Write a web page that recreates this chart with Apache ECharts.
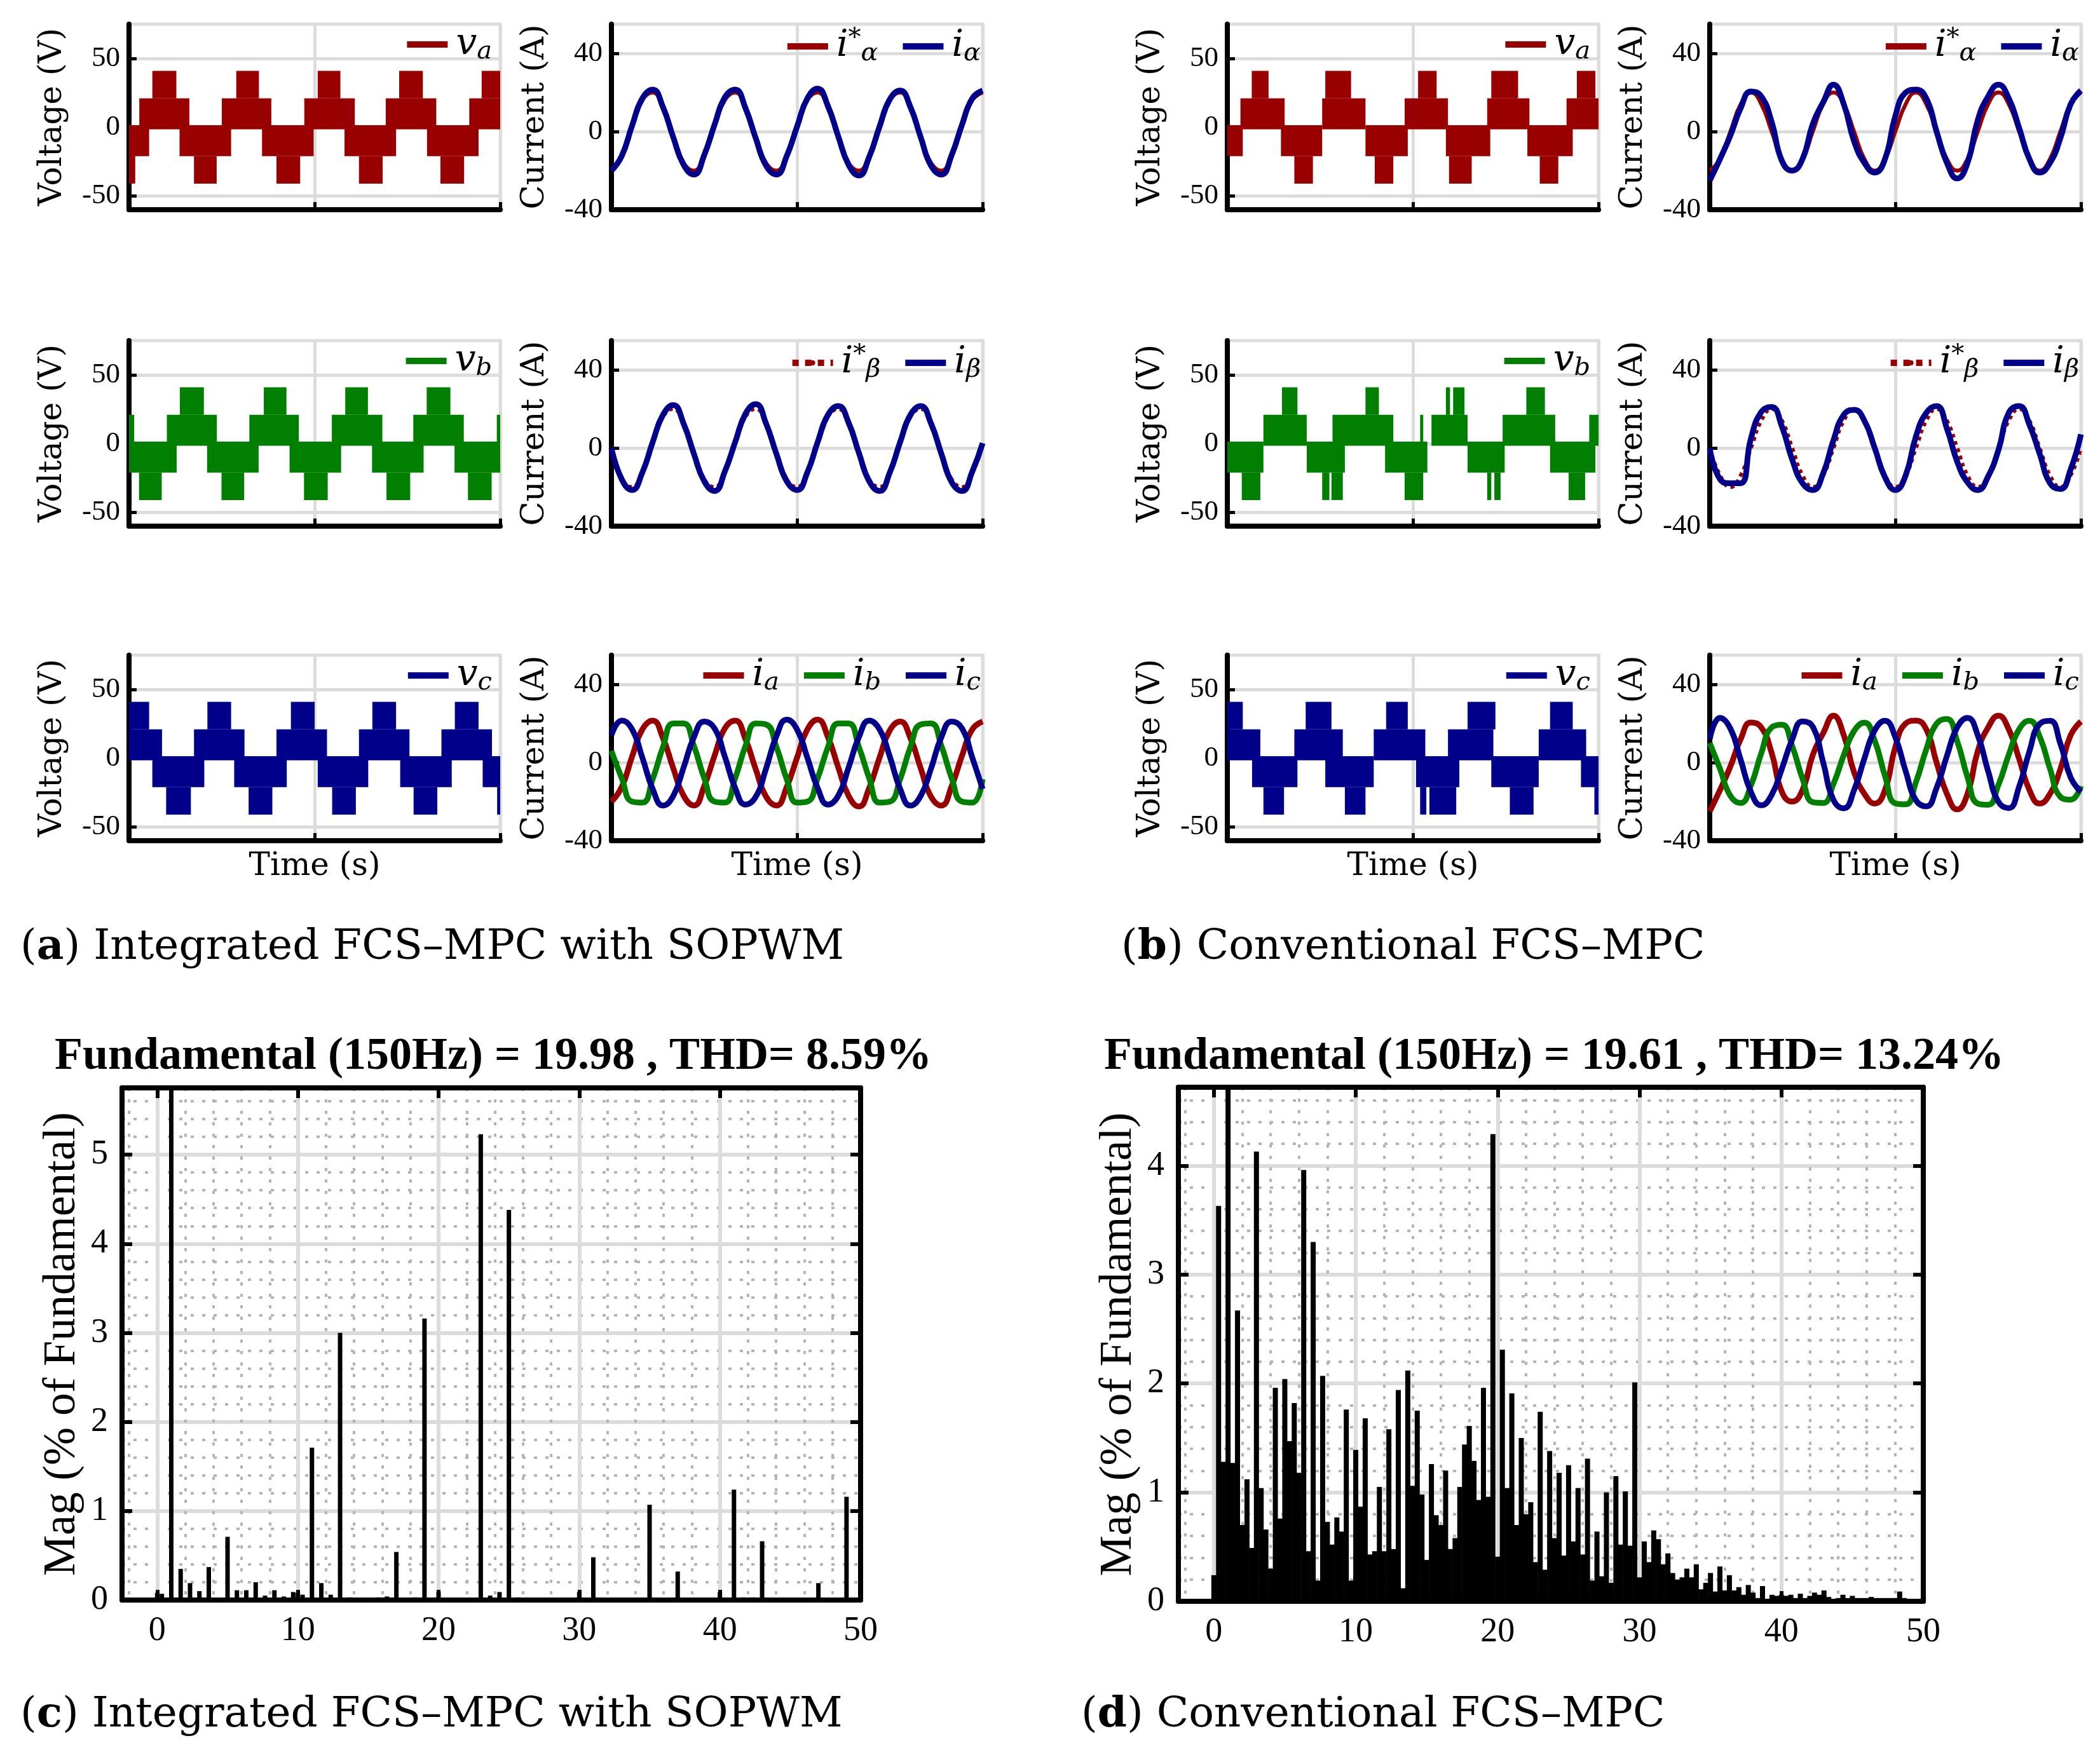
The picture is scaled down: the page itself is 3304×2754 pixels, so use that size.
<!DOCTYPE html>
<html lang="en" style="height: 100%">
<head>
<meta charset="utf-8">
<script src="https://cdn.jsdelivr.net/npm/echarts@6.0.0/dist/echarts.min.js"></script>
</head>
<body style="height: 100%; margin: 0; background: #fff">
<div id="main" style="width: 3304px; height: 2754px"></div>
<script>
// time axis: 0..36, one step = 1/8 of the 150 Hz period
// voltage PWM bands: [t0, t1, low, high]
var vaA = [
  [0, 1.95, -21, 1.5], [0, 0.6, -41, -21],
  [1.0, 5.85, -1.5, 21], [2.26, 4.59, 21, 41],
  [4.9, 9.9, -21, 1.5], [6.3, 8.5, -41, -21],
  [9.0, 13.8, -1.5, 21], [10.4, 12.6, 21, 41],
  [12.9, 17.9, -21, 1.5], [14.3, 16.6, -41, -21],
  [17.0, 21.9, -1.5, 21], [18.3, 20.5, 21, 41],
  [20.9, 25.9, -21, 1.5], [22.3, 24.6, -41, -21],
  [24.9, 29.8, -1.5, 21], [26.2, 28.5, 21, 41],
  [28.9, 33.9, -21, 1.5], [30.2, 32.5, -41, -21],
  [33.0, 36, -1.5, 21], [34.2, 36, 21, 41]
];
var vbA = [
  [0, 0.5, -1.5, 21],
  [0, 4.62, -21, 1.5], [0.97, 3.17, -41, -21],
  [3.67, 8.52, -1.5, 21], [4.93, 7.26, 21, 41],
  [7.57, 12.57, -21, 1.5], [8.97, 11.17, -41, -21],
  [11.67, 16.47, -1.5, 21], [13.07, 15.27, 21, 41],
  [15.57, 20.57, -21, 1.5], [16.97, 19.27, -41, -21],
  [19.67, 24.57, -1.5, 21], [20.97, 23.17, 21, 41],
  [23.57, 28.57, -21, 1.5], [24.97, 27.27, -41, -21],
  [27.57, 32.47, -1.5, 21], [28.87, 31.17, 21, 41],
  [31.57, 36, -21, 1.5], [32.87, 35.17, -41, -21],
  [35.67, 36, -1.5, 21]
];
var vcA = [
  [0, 3.2, -1.5, 21], [0, 1.95, 21, 41],
  [2.26, 7.3, -21, 1.5], [3.6, 6.0, -41, -21],
  [6.3, 11.2, -1.5, 21], [7.6, 9.9, 21, 41],
  [10.2, 15.3, -21, 1.5], [11.6, 13.9, -41, -21],
  [14.3, 19.2, -1.5, 21], [15.7, 18.0, 21, 41],
  [18.3, 23.2, -21, 1.5], [19.7, 22.0, -41, -21],
  [22.3, 27.2, -1.5, 21], [23.6, 25.9, 21, 41],
  [26.3, 31.3, -21, 1.5], [27.6, 29.9, -41, -21],
  [30.3, 35.2, -1.5, 21], [31.6, 33.9, 21, 41],
  [34.3, 36, -21, 1.5], [35.7, 36, -41, -21]
];
var vaB = [
  [0, 1.5, -21, 1.5],
  [1.27, 5.56, -1.5, 21], [2.37, 4.0, 21, 41],
  [5.2, 9.2, -21, 1.5], [6.5, 8.3, -41, -21],
  [9.2, 13.4, -1.5, 21], [9.5, 12.0, 21, 41],
  [13.4, 17.5, -21, 1.5], [14.3, 16.1, -41, -21],
  [17.2, 21.4, -1.5, 21], [18.5, 20.3, 21, 41],
  [21.2, 25.5, -21, 1.5], [21.5, 23.7, -41, -21],
  [25.2, 29.3, -1.5, 21], [25.6, 28.2, 21, 41],
  [29.1, 33.5, -21, 1.5], [30.3, 32.1, -41, -21],
  [32.9, 36, -1.5, 21], [33.9, 35.7, 21, 41]
];
var vbB = [
  [0, 3.5, -21, 1.5], [1.4, 3.2, -41, -21],
  [3.5, 7.7, -1.5, 21], [5.3, 6.8, 21, 41],
  [7.7, 11.4, -21, 1.5], [9.2, 9.9, -41, -21], [10.1, 11.2, -41, -21],
  [10.2, 16.1, -1.5, 21], [13.4, 14.7, 21, 41],
  [15.3, 19.4, -21, 1.5], [17.2, 19.0, -41, -21],
  [18.7, 19.0, -1.5, 21], [19.8, 23.3, -1.5, 21], [21.2, 21.6, 21, 41], [21.9, 23.0, 21, 41],
  [23.3, 26.9, -21, 1.5], [25.2, 25.6, -41, -21], [25.9, 26.5, -41, -21],
  [26.7, 31.8, -1.5, 21], [29.0, 30.8, 21, 41],
  [31.3, 35.7, -21, 1.5], [33.1, 34.7, -41, -21],
  [35.1, 36, -1.5, 21]
];
var vcB = [
  [0, 3.2, -1.5, 21], [0, 1.5, 21, 41],
  [2.4, 6.8, -21, 1.5], [3.5, 5.5, -41, -21],
  [6.5, 11.2, -1.5, 21], [7.6, 10.1, 21, 41],
  [9.5, 14.2, -21, 1.5], [11.4, 13.4, -41, -21],
  [14.2, 19.2, -1.5, 21], [15.4, 17.5, 21, 41],
  [18.3, 22.5, -21, 1.5], [18.7, 19.3, -41, -21], [19.6, 22.2, -41, -21],
  [21.4, 25.8, -1.5, 21], [23.3, 26.0, 21, 41],
  [25.6, 30.2, -21, 1.5], [27.4, 29.7, -41, -21],
  [30.2, 34.8, -1.5, 21], [31.3, 33.5, 21, 41],
  [34.3, 36, -21, 1.5], [35.6, 36, -41, -21]
];

// currents (A), 37 samples each
var iAlphaRefA = [-20, -12, 2.5, 16, 20, 12, -2.5, -16, -20, -12, 2.5, 16, 20, 12, -2.5, -16, -20, -12, 2.5, 16, 20, 12, -2.5, -16, -20, -12, 2.5, 16, 20, 12, -2.5, -16, -20, -12, 2.5, 16, 20];
var iAlphaA = [-20, -12.5, 3, 17, 21.5, 12.5, -3, -17, -22, -12, 3.5, 17.5, 21.5, 12, -3.5, -17.5, -22, -12.5, 2.5, 17, 22, 13, -2.5, -17, -22.5, -13, 2.5, 16.5, 21, 12.5, -3, -17.5, -22, -12, 3.5, 17, 21];
var iBetaRefA = [-2.5, -16, -20, -12, 2.5, 16, 20, 12, -2.5, -16, -20, -12, 2.5, 16, 20, 12, -2.5, -16, -20, -12, 2.5, 16, 20, 12, -2.5, -16, -20, -12, 2.5, 16, 20, 12, -2.5, -16, -20, -12, 2.5];
var iBetaA = [0, -16, -21.5, -12.5, 3, 17, 22, 12.5, -3, -17, -22, -12, 3, 17.5, 22.5, 12.5, -3, -17, -21.5, -12.5, 3, 17, 21.5, 13, -2.5, -17, -22, -12.5, 3, 17, 21.5, 12.5, -3, -17.5, -22, -12, 2.5];
var iaA = iAlphaA;
var ibA = [6, -8, -20, -20.5, -8.5, 8, 20, 20, 8.5, -8, -20, -20.5, -8, 8.5, 20, 19.5, 8, -8.5, -20.5, -20, -8, 8, 20, 20, 8, -8, -20.5, -20, -8.5, 8, 19.5, 20, 8.5, -8, -20, -20.5, -8.5];
var icA = [14, 21.5, 17, 2.5, -13.5, -22, -17, -2.5, 13, 21, 17.5, 3, -13, -21.5, -17.5, -3, 13.5, 22, 17, 2.5, -13, -21.5, -17, -2.5, 13, 21.5, 17, 3, -13.5, -22, -17, -3, 13, 21, 17.5, 2.5, -13.5];

var iAlphaRefB = [-20, -14, 0, 14, 20, 14, 0, -14, -20, -14, 0, 14, 20, 14, 0, -14, -20, -14, 0, 14, 20, 14, 0, -14, -20, -14, 0, 14, 20, 14, 0, -14, -20, -14, 0, 14, 20];
var iAlphaB = [-25, -14, -2, 12, 20.5, 18, 5, -15, -20, -14, 4, 15, 24, 14, -5, -16, -21, -14, 8, 20, 21.5, 17, 0, -16, -24, -16, 6, 18, 24, 17, 2, -14, -21, -16, -3.5, 14, 21];
var iBetaRefB = [0, -14, -20, -14, 0, 14, 20, 14, 0, -14, -20, -14, 0, 14, 20, 14, 0, -14, -20, -14, 0, 14, 20, 14, 0, -14, -20, -14, 0, 14, 20, 14, 0, -14, -20, -14, 0];
var iBetaB = [0, -16, -18, -18, 5, 18.5, 21, 11, -6, -18, -21.5, -13, 4, 17, 19.5, 14, 0, -15, -21.5, -14, 6, 18, 21.5, 10, -7, -17.5, -21.5, -14.5, -1, 18, 21.5, 12, -3, -18, -21, -11, 7];
var iaB = iAlphaB;
var ibB = [10, -3.3, -17, -20.7, -11.6, 4.8, 18, 19.4, 8.4, -8.3, -20.3, -20.7, -10.9, 3.8, 16.2, 20.4, 11.2, -6.9, -20.9, -21.4, -10, 6.8, 19.9, 22.3, 10.9, -7.5, -21, -21.6, -11.4, 4, 17, 21.4, 13.3, -3.2, -17.5, -19, -12];
var icB = [12, 22.9, 17.4, 1.4, -15.1, -21.9, -16.6, -3.1, 11.9, 21.1, 18.3, 0.1, -19.1, -23.4, -14.1, 2.1, 16.5, 21.4, 12.9, -4.4, -19.3, -22.4, -13, 3.4, 18, 22.9, 13.9, -4.4, -20.1, -23.3, -12.4, 5.7, 19.8, 21.4, 9.8, -7.6, -15];

// spectra: bin k sits at harmonic order k/3, magnitude in % of fundamental
var cBin = [0, 1, 3, 5, 7, 9, 11, 15, 17, 19, 21, 23, 25, 27, 29, 30, 31, 33, 35, 37, 39, 41, 43, 45, 47, 49, 51, 53, 55, 57, 60, 69, 71, 73, 75, 77, 81, 90, 93, 97, 99, 102, 105, 111, 115, 120, 123, 125, 127, 129, 135, 139, 141, 144, 147];
var cMag = [0.08, 0.07, 100, 0.35, 0.19, 0.10, 0.37, 0.71, 0.11, 0.11, 0.20, 0.05, 0.11, 0.04, 0.09, 0.08, 0.06, 1.71, 0.19, 0.06, 3.00, 0.03, 0.02, 0.02, 0.03, 0.04, 0.54, 0.02, 0.03, 3.16, 0.09, 5.23, 0.05, 0.09, 4.38, 0.03, 0.02, 0.09, 0.48, 0.02, 0.02, 0.02, 1.07, 0.32, 0.02, 0.09, 1.24, 0.03, 0.03, 0.66, 0.02, 0.02, 0.19, 0.02, 1.16];
var dMag = [
  0.24, 3.63, 1.28, 100, 1.27, 2.67, 0.70, 1.12, 0.49, 4.13, 1.04, 0.66, 0.30, 1.96, 0.76, 2.04, 1.47, 1.82, 1.18, 3.96,
  0.46, 3.30, 0.19, 2.07, 0.73, 0.52, 0.77, 0.64, 1.76, 0.19, 1.39, 0.87, 1.68, 0.43, 0.46, 1.05, 0.46, 1.58, 0.48, 1.94,
  0.12, 2.12, 1.06, 1.75, 0.98, 0.38, 1.26, 0.79, 0.70, 1.20, 0.48, 0.58, 1.05, 1.44, 1.61, 1.29, 0.93, 1.96, 0.96, 4.29,
  0.41, 2.31, 1.04, 1.91, 0.70, 1.50, 0.80, 0.91, 0.36, 1.74, 0.29, 1.38, 0.58, 1.18, 0.42, 1.25, 0.55, 1.04, 0.43, 1.31,
  0.19, 0.64, 0.23, 1.00, 0.17, 1.15, 0.52, 1.01, 0.51, 2.01, 0.22, 0.55, 0.36, 0.65, 0.57, 0.34, 0.44, 0.26, 0.20, 0.22,
  0.30, 0.22, 0.34, 0.11, 0.17, 0.26, 0.09, 0.32, 0.10, 0.24, 0.10, 0.13, 0.06, 0.15, 0.08, 0.03, 0.14, 0.02, 0.06, 0.05,
  0.06, 0.05, 0.06, 0.03, 0.07, 0.03, 0.05, 0.08, 0.06, 0.10, 0.04, 0.02, 0.03, 0.06, 0.03, 0.05, 0.03, 0.03, 0.03, 0.04,
  0.03, 0.03, 0.03, 0.03, 0.03, 0.09, 0.03, 0.02, 0.02, 0.02, 0.02
];
var cTicks = [0, 1, 2, 3, 4, 5];
var dTicks = [0, 1, 2, 3, 4];
var orderTicks = [0, 10, 20, 30, 40, 50];

var RED = '#990000', GREEN = '#007f00', BLUE = '#00008b';
var GRAY = '#dcdcdc';
var CM = 'DejaVu Serif', TIMES = 'Liberation Serif';

var W = 584, H = 292;
var colX = [203, 962, 1931, 2690];
var rowY = [38, 536, 1031];

var LAB = {
  va: '{m|v}{s|a}', vb: '{m|v}{s|b}', vc: '{m|v}{s|c}',
  iar: '{m|i}{p|*}{s|α}', ial: '{m|i}{s|α}',
  ibr: '{m|i}{p|*}{s|β}', ibe: '{m|i}{s|β}',
  ia: '{m|i}{s|a}', ib: '{m|i}{s|b}', ic: '{m|i}{s|c}'
};
var RICH = {
  m: { fontFamily: CM, fontStyle: 'italic', fontSize: 58, lineHeight: 64, verticalAlign: 'middle', color: '#000', padding: [0, 0, 0, 8] },
  s: { fontFamily: CM, fontStyle: 'italic', fontSize: 40, lineHeight: 34, verticalAlign: 'bottom', color: '#000' },
  p: { fontFamily: CM, fontSize: 40, lineHeight: 34, verticalAlign: 'top', color: '#000' }
};

var panels = [
  { col: 0, row: 0, volt: true, items: [['va', vaA, RED]] },
  { col: 1, row: 0, items: [['iar', iAlphaRefA, RED, 'solid'], ['ial', iAlphaA, BLUE]] },
  { col: 0, row: 1, volt: true, items: [['vb', vbA, GREEN]] },
  { col: 1, row: 1, items: [['ibr', iBetaRefA, RED, 'dotted'], ['ibe', iBetaA, BLUE]] },
  { col: 0, row: 2, volt: true, items: [['vc', vcA, BLUE]] },
  { col: 1, row: 2, items: [['ia', iaA, RED], ['ib', ibA, GREEN], ['ic', icA, BLUE]] },
  { col: 2, row: 0, volt: true, items: [['va', vaB, RED]] },
  { col: 3, row: 0, items: [['iar', iAlphaRefB, RED, 'solid'], ['ial', iAlphaB, BLUE]] },
  { col: 2, row: 1, volt: true, items: [['vb', vbB, GREEN]] },
  { col: 3, row: 1, items: [['ibr', iBetaRefB, RED, 'dotted'], ['ibe', iBetaB, BLUE]] },
  { col: 2, row: 2, volt: true, items: [['vc', vcB, BLUE]] },
  { col: 3, row: 2, items: [['ia', iaB, RED], ['ib', ibB, GREEN], ['ic', icB, BLUE]] }
];

var grids = [], xAxes = [], yAxes = [], series = [], legends = [];

function bandItem(params, api) {
  var a = api.coord([api.value(0), api.value(3)]);
  var b = api.coord([api.value(1), api.value(2)]);
  return {
    type: 'rect',
    shape: { x: a[0], y: a[1], width: b[0] - a[0], height: b[1] - a[1] },
    style: { fill: api.visual('color') }
  };
}

var blackLine = { show: true, onZero: false, lineStyle: { color: '#000', width: 8 } };

panels.forEach(function (p, k) {
  grids.push({ left: colX[p.col], top: rowY[p.row], width: W, height: H, show: true, borderColor: GRAY, borderWidth: 5 });
  xAxes.push({
    type: 'value', gridIndex: k, min: 0, max: 36, z: 1,
    name: p.row === 2 ? 'Time (s)' : '', nameLocation: 'middle', nameGap: 16,
    nameTextStyle: { fontFamily: CM, fontSize: 50, color: '#000' },
    axisLine: blackLine,
    axisTick: { show: true, inside: true, length: 12, customValues: [18, 36], lineStyle: { color: '#000', width: 5 } },
    axisLabel: { show: false },
    splitLine: { show: true, lineStyle: { color: GRAY, width: 5 } }
  });
  var ticks = p.volt ? [-50, 0, 50] : [0, 40];
  var labels = p.volt ? [-50, 0, 50] : [-40, 0, 40];
  yAxes.push({
    type: 'value', gridIndex: k, min: p.volt ? -60 : -40, max: p.volt ? 75 : 55, z: 1,
    name: p.volt ? 'Voltage (V)' : 'Current (A)', nameLocation: 'middle', nameGap: 95,
    nameTextStyle: { fontFamily: CM, fontSize: 50, color: '#000' },
    axisLine: blackLine,
    axisTick: { show: true, inside: true, length: 12, customValues: ticks, lineStyle: { color: '#000', width: 5 } },
    axisLabel: { customValues: labels, fontFamily: TIMES, fontSize: 45, color: '#000', margin: 14 },
    splitLine: { show: true, lineStyle: { color: GRAY, width: 5 } }
  });
  p.items.forEach(function (it) {
    var name = it[0] + '|' + k;
    if (p.volt) {
      series.push({
        type: 'custom', name: name, xAxisIndex: k, yAxisIndex: k, data: it[1],
        renderItem: bandItem, encode: { x: [0, 1], y: [2, 3] },
        itemStyle: { color: it[2] }, clip: true, silent: true
      });
    } else {
      series.push({
        type: 'line', name: name, xAxisIndex: k, yAxisIndex: k,
        data: it[1].map(function (v, i) { return [i, v]; }),
        symbol: 'none', smooth: 0.5, silent: true, z: it[3] ? 2 : 3,
        lineStyle: { color: it[2], width: it[3] ? 6 : 9, type: it[3] || 'solid' },
        itemStyle: { color: it[2] }
      });
    }
  });
  legends.push({
    right: 3304 - (colX[p.col] + W) + (p.volt ? 8 : -2), top: rowY[p.row] - 2,
    itemWidth: 64, itemHeight: 10, itemGap: 34, selectedMode: false,
    lineStyle: { width: 10 },
    data: p.items.map(function (it) {
      return p.volt ? { name: it[0] + '|' + k, icon: 'rect' } : { name: it[0] + '|' + k };
    }),
    formatter: function (n) { return LAB[n.split('|')[0]]; },
    textStyle: { rich: RICH }
  });
});

function barPanel(left, top, width, height, ymax, yLabels, data, bw) {
  var gi = grids.length;
  grids.push({ left: left, top: top, width: width, height: height });
  var tickStyle = { color: '#000', width: 6 };
  var minor = { show: true, lineStyle: { color: '#b4b4b4', width: 4, type: [5, 13] } };
  var xi = xAxes.length, yi = yAxes.length;
  xAxes.push({
    type: 'value', gridIndex: gi, min: -2.5, max: 50, position: 'bottom', z: 1,
    axisLine: blackLine,
    axisTick: { inside: true, length: 16, customValues: [0, 10, 20, 30, 40], lineStyle: tickStyle },
    axisLabel: { customValues: orderTicks, fontFamily: TIMES, fontSize: 54, color: '#000', margin: 22 },
    splitLine: { show: true, lineStyle: { color: GRAY, width: 6 } },
    minorTick: { show: false, splitNumber: 5 },
    minorSplitLine: minor
  });
  xAxes.push({
    type: 'value', gridIndex: gi, min: -2.5, max: 50, position: 'top', z: 1,
    axisLine: blackLine,
    axisTick: { inside: true, length: 16, customValues: [0, 10, 20, 30, 40], lineStyle: tickStyle },
    axisLabel: { show: false }, splitLine: { show: false }
  });
  yAxes.push({
    type: 'value', gridIndex: gi, min: 0, max: ymax, position: 'left', z: 1,
    name: 'Mag (% of Fundamental)', nameLocation: 'middle', nameGap: 58,
    nameTextStyle: { fontFamily: TIMES, fontSize: 72, color: '#000' },
    axisLine: blackLine,
    axisTick: { inside: true, length: 16, customValues: yLabels.slice(1), lineStyle: tickStyle },
    axisLabel: { customValues: yLabels, fontFamily: TIMES, fontSize: 54, color: '#000', margin: 22 },
    splitLine: { show: true, lineStyle: { color: GRAY, width: 6 } },
    minorTick: { show: false, splitNumber: 5 },
    minorSplitLine: minor
  });
  yAxes.push({
    type: 'value', gridIndex: gi, min: 0, max: ymax, position: 'right', z: 1,
    axisLine: blackLine,
    axisTick: { inside: true, length: 16, customValues: yLabels.slice(1), lineStyle: tickStyle },
    axisLabel: { show: false }, splitLine: { show: false }
  });
  series.push({
    type: 'bar', xAxisIndex: xi, yAxisIndex: yi, data: data,
    barWidth: bw, itemStyle: { color: '#000' }, clip: true, silent: true
  });
}

barPanel(192, 1712, 1162, 806, 5.75, cTicks, cBin.map(function (k, i) { return [k / 3, cMag[i]]; }), 7);
barPanel(1854, 1711, 1172, 809, 4.72, dTicks, dMag.map(function (v, k) { return [k / 3, v]; }), 8);

var CAP = {
  n: { fontFamily: CM, fontSize: 66, color: '#000' },
  b: { fontFamily: CM, fontSize: 66, fontWeight: 'bold', color: '#000' }
};
function caption(x, y, letter, text) {
  return { type: 'text', x: x, y: y, silent: true,
    style: { text: '{n|(}{b|' + letter + '}{n|) ' + text + '}', rich: CAP, verticalAlign: 'middle', align: 'left', fill: '#000' } };
}
function heading(x, y, text) {
  return { type: 'text', x: x, y: y, silent: true,
    style: { text: text, font: 'bold 72px "Liberation Serif"', fill: '#000', align: 'center', verticalAlign: 'middle' } };
}

var chart = echarts.init(document.getElementById('main'));
chart.setOption({
  animation: false,
  backgroundColor: '#fff',
  grid: grids,
  xAxis: xAxes,
  yAxis: yAxes,
  legend: legends,
  series: series,
  graphic: [
    caption(32, 1492, 'a', 'Integrated FCS–MPC with SOPWM'),
    caption(1764, 1492, 'b', 'Conventional FCS–MPC'),
    caption(32, 2700, 'c', 'Integrated FCS–MPC with SOPWM'),
    caption(1701, 2700, 'd', 'Conventional FCS–MPC'),
    heading(776, 1663, 'Fundamental (150Hz) = 19.98 , THD= 8.59%'),
    heading(2445, 1663, 'Fundamental (150Hz) = 19.61 , THD= 13.24%')
  ]
});
</script>
</body>
</html>
